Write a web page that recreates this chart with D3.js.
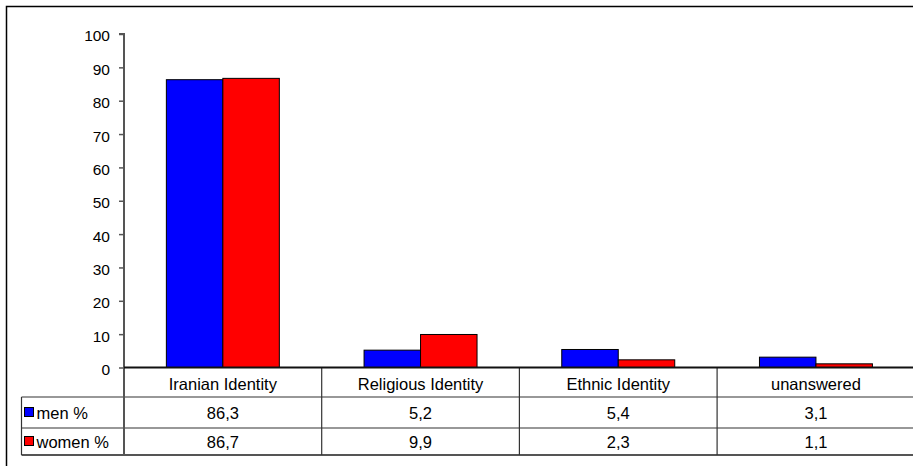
<!DOCTYPE html>
<html><head><meta charset="utf-8">
<script src="https://cdn.jsdelivr.net/npm/d3@7"></script>
<style>html,body{margin:0;padding:0;background:#fff;}svg{display:block;}</style>
</head><body>
<script>
const categories = ["Iranian Identity", "Religious Identity", "Ethnic Identity", "unanswered"];
const seriesNames = ["men %", "women %"];
const men = [86.3, 5.2, 5.4, 3.1];
const women = [86.7, 9.9, 2.3, 1.1];
const seriesColors = ["#0000ff", "#ff0000"];
const yTicks = [0, 10, 20, 30, 40, 50, 60, 70, 80, 90, 100];
const fmt = v => String(v).replace(".", ",");

const W = 913, H = 466;
const svg = d3.select("body").append("svg").attr("width", W).attr("height", H);
const font = "Liberation Sans, Arial, sans-serif";
const fsTick = 15.5, fs = 16.5;

// outer frame (cropped on right & bottom)
svg.append("rect").attr("x", 6.5).attr("y", 6.5).attr("width", 920).attr("height", 470)
  .attr("fill", "#fff").attr("stroke", "#000").attr("stroke-width", 1.5);

const x0 = 124, catW = 197.7;
const x = d3.scaleBand().domain(categories).range([x0, x0 + catW * categories.length]);
const y = d3.scaleLinear().domain([0, 100]).range([367.5, 34]);
const xs = d3.scaleBand().domain([0, 1]).range([0, x.bandwidth()]).paddingOuter(0.75).paddingInner(0);

// bars
const series = [men, women];
series.forEach((vals, si) => {
  svg.append("g").selectAll("rect").data(vals).join("rect")
    .attr("x", (d, i) => x(categories[i]) + xs(si))
    .attr("y", d => y(d))
    .attr("width", xs.bandwidth())
    .attr("height", d => y(0) - y(d))
    .attr("fill", seriesColors[si])
    .attr("stroke", "#000").attr("stroke-width", 1);
});

// y axis
const yAxis = d3.axisLeft(y).tickValues(yTicks).tickSize(5).tickPadding(9);
const ga = svg.append("g").attr("transform", `translate(${x0},0)`).call(yAxis);
ga.select(".domain").attr("stroke", "#555").attr("stroke-width", 2).attr("d", `M-5,${y(100)}H0V${y(0)+1}`);
ga.selectAll(".tick line").attr("stroke", "#555").attr("stroke-width", 1.5);
ga.selectAll(".tick text").attr("font-family", font).attr("font-size", fsTick).attr("fill", "#000").attr("dy", "0.45em");

// table
const rowY = [367.5, 397, 428, 455];
const tableLeft = 21.5, tableRight = 913;
const tl = svg.append("g").attr("stroke", "#333").attr("stroke-width", 1.2);
svg.append("line").attr("x1", x0).attr("x2", W).attr("y1", y(0)).attr("y2", y(0))
  .attr("stroke", "#111").attr("stroke-width", 2);
tl.append("line").attr("x1", tableLeft).attr("x2", tableRight).attr("y1", rowY[1]).attr("y2", rowY[1]);
tl.append("line").attr("x1", tableLeft).attr("x2", tableRight).attr("y1", rowY[2]).attr("y2", rowY[2]);
tl.append("line").attr("x1", tableLeft).attr("x2", tableRight).attr("y1", rowY[3]).attr("y2", rowY[3])
  .attr("stroke", "#555").attr("stroke-width", 2);
tl.append("line").attr("x1", tableLeft).attr("x2", tableLeft).attr("y1", rowY[1]).attr("y2", rowY[3]);
tl.append("line").attr("x1", x0).attr("x2", x0).attr("y1", rowY[0]).attr("y2", rowY[3])
  .attr("stroke", "#555").attr("stroke-width", 2);
categories.forEach((c, i) => {
  if (i > 0) tl.append("line").attr("x1", x(c)).attr("x2", x(c)).attr("y1", rowY[0]).attr("y2", rowY[3]);
});

// category labels
svg.append("g").selectAll("text").data(categories).join("text")
  .attr("x", d => x(d) + x.bandwidth() / 2).attr("y", 389.5)
  .attr("text-anchor", "middle").attr("font-family", font).attr("font-size", fs).text(d => d);

// value rows
const baselines = [419, 447.5];
series.forEach((vals, si) => {
  const cy = (rowY[si + 1] + rowY[si + 2]) / 2;
  svg.append("rect").attr("x", 24.5).attr("y", cy - 5).attr("width", 9).attr("height", 9)
    .attr("fill", seriesColors[si]).attr("stroke", "#000").attr("stroke-width", 1);
  svg.append("text").attr("x", 36.5).attr("y", baselines[si]).attr("font-family", font).attr("font-size", fs)
    .text(seriesNames[si]);
  svg.append("g").selectAll("text").data(vals).join("text")
    .attr("x", (d, i) => x(categories[i]) + x.bandwidth() / 2).attr("y", baselines[si])
    .attr("text-anchor", "middle").attr("font-family", font).attr("font-size", fs).text(d => fmt(d));
});
</script>
</body></html>
